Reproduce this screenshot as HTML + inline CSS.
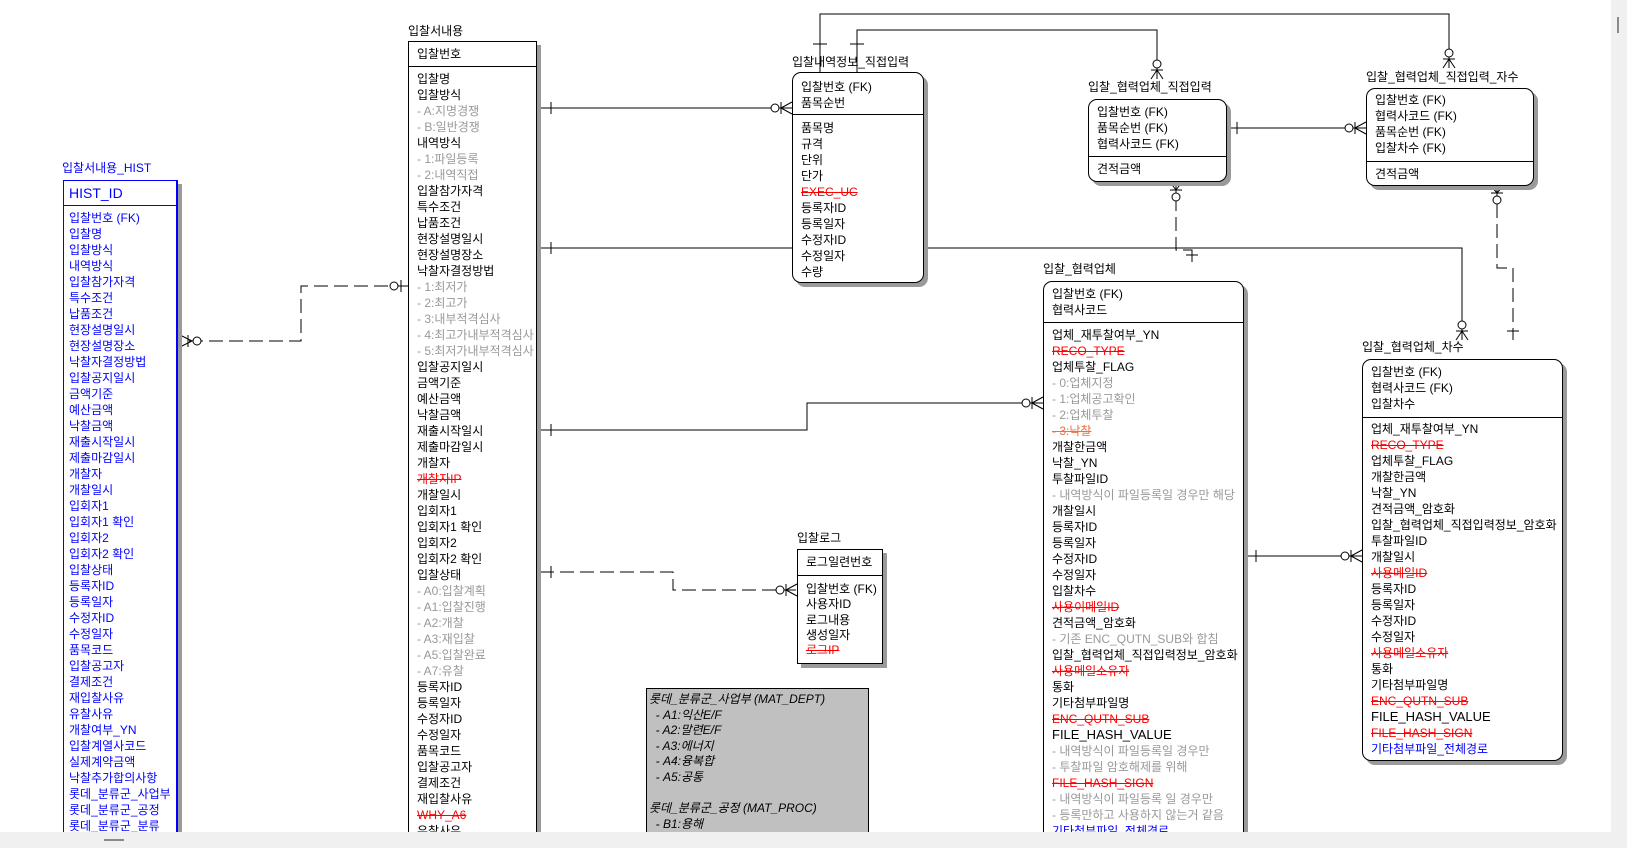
<!DOCTYPE html>
<html style="width:1627px;height:848px;overflow:hidden"><head><meta charset="utf-8">
<style>
*{margin:0;padding:0;box-sizing:border-box}
body{width:1627px;height:848px;overflow:hidden;background:#fff;position:relative;font-family:"Liberation Sans","Noto Sans CJK KR",sans-serif;font-size:12px;color:#000}
.t{position:absolute;white-space:nowrap;line-height:16px;font-size:12px}
.box{position:absolute;border:1px solid #000;background:#fff;box-shadow:4px 4px 0 #9a9a9a;overflow:hidden}
.r{border-radius:9px}
.dv{position:absolute;left:0;right:0;height:1px;background:#000}
.rows{position:absolute;left:8px;white-space:nowrap;line-height:16px}
.rows div{height:16px}
.g{color:#999}
.x{color:#f00;text-decoration:line-through}
.o{color:#f07040;text-decoration:line-through}
.b{color:#00f}
svg{position:absolute;left:0;top:0}
.sb{position:absolute;z-index:10}
</style></head><body>
<svg width="1627" height="848" stroke="#000" fill="none" stroke-width="1">
<path d="M408 286H301V341H183" stroke-dasharray="14 6"/>
<path d="M401 280V292"/><circle cx="394" cy="286" r="4" fill="#fff"/>
<path d="M192 341L180 335M192 341L180 347M188 335V347"/><circle cx="197" cy="341" r="4" fill="#fff"/>
<path d="M540 108H792M551 102V114M781 102V114M781 108L792 102M781 108L792 114"/><circle cx="775" cy="108" r="4" fill="#fff"/>
<path d="M540 248H1462V340M551 242V254M1456 331H1468M1462 331L1456 340M1462 331L1468 340"/><circle cx="1462" cy="325" r="4" fill="#fff"/>
<path d="M540 430H807V403H1043M551 424V436M1032 397V409M1032 403L1043 397M1032 403L1043 409"/><circle cx="1026" cy="403" r="4" fill="#fff"/>
<path d="M540 572H673V590H797" stroke-dasharray="14 6"/>
<path d="M551 566V578M786 584V596M786 590L797 584M786 590L797 596M776 590H786"/><circle cx="780" cy="590" r="4" fill="#fff"/>
<path d="M1243 556H1362M1256 550V562M1351 550V562M1351 556L1362 550M1351 556L1362 562"/><circle cx="1345" cy="556" r="4" fill="#fff"/>
<path d="M857 72V30H1157V79M850 44H864M1151 70H1163M1157 70L1151 79M1157 70L1163 79"/><circle cx="1157" cy="64" r="4" fill="#fff"/>
<path d="M820 72V14H1449V68M813 44H827M1443 59H1455M1449 59L1443 68M1449 59L1455 68"/><circle cx="1449" cy="53" r="4" fill="#fff"/>
<path d="M1176 197V250H1192V262" stroke-dasharray="14 6"/>
<path d="M1176 182V197M1176 190L1170 182M1176 190L1182 182M1170 190H1182M1186 255H1198M1192 250V262"/><circle cx="1176" cy="197" r="4" fill="#fff"/>
<path d="M1497 204V268H1513V340" stroke-dasharray="14 6"/>
<path d="M1497 186V196M1497 193L1491 186M1497 193L1503 186M1491 193H1503M1507 331H1519"/><circle cx="1497" cy="200" r="4" fill="#fff"/>
<path d="M1226 128H1366M1237 122V134M1355 122V134M1355 128L1366 122M1355 128L1366 134"/><circle cx="1349" cy="128" r="4" fill="#fff"/>
</svg>

<div class="t b" style="left:62px;top:160px">입찰서내용_HIST</div>
<div class="box" style="left:63px;top:180px;width:115px;height:660px;border-color:#00f;border-width:1px 2px 1px 1px">
<div class="dv" style="top:24px;background:#00f"></div>
<div class="rows b" style="top:3px;left:5px;font-size:14px;line-height:18px">HIST_ID</div>
<div class="rows b" style="top:29px;left:5px">
<div>입찰번호 (FK)</div><div>입찰명</div><div>입찰방식</div><div>내역방식</div><div>입찰참가자격</div><div>특수조건</div><div>납품조건</div><div>현장설명일시</div><div>현장설명장소</div><div>낙찰자결정방법</div><div>입찰공지일시</div><div>금액기준</div><div>예산금액</div><div>낙찰금액</div><div>재출시작일시</div><div>제출마감일시</div><div>개찰자</div><div>개찰일시</div><div>입회자1</div><div>입회자1 확인</div><div>입회자2</div><div>입회자2 확인</div><div>입찰상태</div><div>등록자ID</div><div>등록일자</div><div>수정자ID</div><div>수정일자</div><div>품목코드</div><div>입찰공고자</div><div>결제조건</div><div>재입찰사유</div><div>유찰사유</div><div>개찰여부_YN</div><div>입찰계열사코드</div><div>실제계약금액</div><div>낙찰추가합의사항</div><div>롯데_분류군_사업부</div><div>롯데_분류군_공정</div><div>롯데_분류군_분류</div>
</div></div>

<div class="t" style="left:408px;top:23px">입찰서내용</div>
<div class="box" style="left:408px;top:41px;width:129px;height:800px">
<div class="dv" style="top:24px"></div>
<div class="rows" style="top:4px">입찰번호</div>
<div class="rows" style="top:29px">
<div>입찰명</div><div>입찰방식</div><div class="g">- A:지명경쟁</div><div class="g">- B:일반경쟁</div><div>내역방식</div><div class="g">- 1:파일등록</div><div class="g">- 2:내역직접</div><div>입찰참가자격</div><div>특수조건</div><div>납품조건</div><div>현장설명일시</div><div>현장설명장소</div><div>낙찰자결정방법</div><div class="g">- 1:최저가</div><div class="g">- 2:최고가</div><div class="g">- 3:내부적격심사</div><div class="g">- 4:최고가내부적격심사</div><div class="g">- 5:최저가내부적격심사</div><div>입찰공지일시</div><div>금액기준</div><div>예산금액</div><div>낙찰금액</div><div>재출시작일시</div><div>제출마감일시</div><div>개찰자</div><div class="x">개찰자IP</div><div>개찰일시</div><div>입회자1</div><div>입회자1 확인</div><div>입회자2</div><div>입회자2 확인</div><div>입찰상태</div><div class="g">- A0:입찰계획</div><div class="g">- A1:입찰진행</div><div class="g">- A2:개찰</div><div class="g">- A3:재입찰</div><div class="g">- A5:입찰완료</div><div class="g">- A7:유찰</div><div>등록자ID</div><div>등록일자</div><div>수정자ID</div><div>수정일자</div><div>품목코드</div><div>입찰공고자</div><div>결제조건</div><div>재입찰사유</div><div class="x">WHY_A6</div><div>유찰사유</div>
</div></div>

<div class="t" style="left:792px;top:54px">입찰내역정보_직접입력</div>
<div class="box r" style="left:792px;top:72px;width:132px;height:211px">
<div class="dv" style="top:41px"></div>
<div class="rows" style="top:6px"><div>입찰번호 (FK)</div><div>품목순번</div></div>
<div class="rows" style="top:47px"><div>품목명</div><div>규격</div><div>단위</div><div>단가</div><div class="x">EXEC_UC</div><div>등록자ID</div><div>등록일자</div><div>수정자ID</div><div>수정일자</div><div>수량</div></div>
</div>

<div class="t" style="left:1088px;top:79px">입찰_협력업체_직접입력</div>
<div class="box r" style="left:1088px;top:99px;width:139px;height:83px">
<div class="dv" style="top:56px"></div>
<div class="rows" style="top:4px"><div>입찰번호 (FK)</div><div>품목순번 (FK)</div><div>협력사코드 (FK)</div></div>
<div class="rows" style="top:61px"><div>견적금액</div></div>
</div>

<div class="t" style="left:1366px;top:69px">입찰_협력업체_직접입력_자수</div>
<div class="box r" style="left:1366px;top:88px;width:168px;height:98px">
<div class="dv" style="top:72px"></div>
<div class="rows" style="top:3px"><div>입찰번호 (FK)</div><div>협력사코드 (FK)</div><div>품목순번 (FK)</div><div>입찰차수 (FK)</div></div>
<div class="rows" style="top:77px"><div>견적금액</div></div>
</div>

<div class="t" style="left:1043px;top:261px">입찰_협력업체</div>
<div class="box" style="left:1043px;top:281px;width:201px;height:560px;border-radius:9px 9px 0 0">
<div class="dv" style="top:40px"></div>
<div class="rows" style="top:4px"><div>입찰번호 (FK)</div><div>협력사코드</div></div>
<div class="rows" style="top:45px">
<div>업체_재투찰여부_YN</div><div class="x">RECO_TYPE</div><div>업체투찰_FLAG</div><div class="g">- 0:업체지정</div><div class="g">- 1:업체공고확인</div><div class="g">- 2:업체투찰</div><div class="o">- 3:낙찰</div><div>개찰한금액</div><div>낙찰_YN</div><div>투찰파일ID</div><div class="g">- 내역방식이 파일등록일 경우만 해당</div><div>개찰일시</div><div>등록자ID</div><div>등록일자</div><div>수정자ID</div><div>수정일자</div><div>입찰차수</div><div class="x">사용이메일ID</div><div>견적금액_암호화</div><div class="g">- 기존 ENC_QUTN_SUB와 합침</div><div>입찰_협력업체_직접입력정보_암호화</div><div class="x">사용메일소유자</div><div>통화</div><div>기타첨부파일명</div><div class="x">ENC_QUTN_SUB</div><div style="font-size:13px">FILE_HASH_VALUE</div><div class="g">- 내역방식이 파일등록일 경우만</div><div class="g">- 투찰파일 암호해제를 위해</div><div class="x">FILE_HASH_SIGN</div><div class="g">- 내역방식이 파일등록 일 경우만</div><div class="g">- 등록만하고 사용하지 않는거 같음</div><div class="b">기타첨부파일_전체경로</div>
</div></div>

<div class="t" style="left:1362px;top:339px">입찰_협력업체_차수</div>
<div class="box r" style="left:1362px;top:359px;width:201px;height:402px">
<div class="dv" style="top:57px"></div>
<div class="rows" style="top:4px"><div>입찰번호 (FK)</div><div>협력사코드 (FK)</div><div>입찰차수</div></div>
<div class="rows" style="top:61px">
<div>업체_재투찰여부_YN</div><div class="x">RECO_TYPE</div><div>업체투찰_FLAG</div><div>개찰한금액</div><div>낙찰_YN</div><div>견적금액_암호화</div><div>입찰_협력업체_직접입력정보_암호화</div><div>투찰파일ID</div><div>개찰일시</div><div class="x">사용메일ID</div><div>등록자ID</div><div>등록일자</div><div>수정자ID</div><div>수정일자</div><div class="x">사용메일소유자</div><div>통화</div><div>기타첨부파일명</div><div class="x">ENC_QUTN_SUB</div><div style="font-size:13px">FILE_HASH_VALUE</div><div class="x">FILE_HASH_SIGN</div><div class="b">기타첨부파일_전체경로</div>
</div></div>

<div class="t" style="left:797px;top:530px">입찰로그</div>
<div class="box" style="left:797px;top:549px;width:86px;height:115px">
<div class="dv" style="top:25px"></div>
<div class="rows" style="top:4px">로그일련번호</div>
<div class="rows" style="top:32px;line-height:15.3px"><div style="height:15.3px">입찰번호 (FK)</div><div style="height:15.3px">사용자ID</div><div style="height:15.3px">로그내용</div><div style="height:15.3px">생성일자</div><div style="height:15.3px" class="x">로그IP</div></div>
</div>

<div style="position:absolute;left:646px;top:688px;width:223px;height:150px;background:#c0c0c0;border:1px solid #000;font-style:italic;line-height:15.6px;white-space:pre;padding:3px 0 0 2px;overflow:hidden">롯데_분류군_사업부 (MAT_DEPT)
  - A1:익산E/F
  - A2:말련E/F
  - A3:에너지
  - A4:융복합
  - A5:공통

롯데_분류군_공정 (MAT_PROC)
  - B1:용해</div>

<div class="sb" style="left:0;top:832px;width:1627px;height:16px;background:#f0f0f0"></div>
<div class="sb" style="left:104px;top:839px;width:20px;height:2px;background:#8a8a8a"></div>
<div class="sb" style="left:1611px;top:0;width:16px;height:848px;background:#f0f0f0"></div>
<div class="sb" style="left:1617px;top:17px;width:2px;height:16px;background:#8a8a8a"></div>
</body></html>
